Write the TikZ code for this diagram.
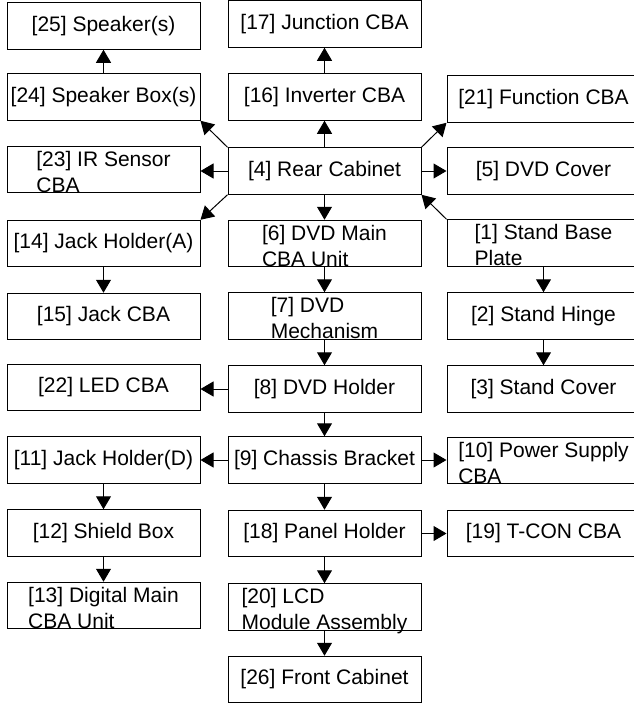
\documentclass[tikz,border=0pt]{standalone}
\usepackage{fontspec}
\setmainfont{Liberation Sans}
\usetikzlibrary{arrows.meta}

\begin{document}
\begin{tikzpicture}[x=1pt, y=-1pt,
  font=\fontsize{21}{26}\selectfont,
  part/.style={draw, line width=1pt, minimum width=193pt, minimum height=46.5pt, inner sep=2pt, align=left},
  two/.style={text height=45pt, text depth=0pt, inner ysep=0pt},
  p/.style={-{Triangle[length=13pt, width=15pt]}, line width=1pt}]
\useasboundingbox (0,0) rectangle (634,704);
% left column
\node[part] (n25) at (103.5,26) {[25] Speaker(s)};
\node[part] (n24) at (103.5,97) {[24] Speaker Box(s)};
\node[part, two] (n23) at (103.5,169.5) {[23] IR Sensor\\CBA};
\node[part] (n14) at (103.5,243.5) {[14] Jack Holder(A)};
\node[part] (n15) at (103.5,316.5) {[15] Jack CBA};
\node[part] (n22) at (103.5,387.5) {[22] LED CBA};
\node[part] (n11) at (103.5,460) {[11] Jack Holder(D)};
\node[part] (n12) at (103.5,533) {[12] Shield Box};
\node[part, two] (n13) at (103.5,605.5) {[13] Digital Main\\CBA Unit};
% middle column
\node[part] (n17) at (324.5,24) {[17] Junction CBA};
\node[part] (n16) at (324.5,97) {[16] Inverter CBA};
\node[part] (n4) at (324.5,171) {[4] Rear Cabinet};
\node[part, two] (n6) at (324.5,243.5) {[6] DVD Main\\CBA Unit};
\node[part, two] (n7) at (324.5,316) {[7] DVD\\Mechanism};
\node[part] (n8) at (324.5,389) {[8] DVD Holder};
\node[part] (n9) at (324.5,460) {[9] Chassis Bracket};
\node[part] (n18) at (324.5,533.5) {[18] Panel Holder};
\node[part, two] (n20) at (324.5,607) {[20] LCD\\Module Assembly};
\node[part] (n26) at (324.5,679.5) {[26] Front Cabinet};
% right column (cut by the page edge)
\node[part] (n21) at (543.5,99) {[21] Function CBA};
\node[part] (n5) at (543.5,171) {[5] DVD Cover};
\node[part, two] (n1) at (543.5,243) {[1] Stand Base\\Plate};
\node[part] (n2) at (543.5,316) {[2] Stand Hinge};
\node[part] (n3) at (543.5,389) {[3] Stand Cover};
\node[part, two] (n10) at (543.5,460.5) {[10] Power Supply\\CBA};
\node[part] (n19) at (543.5,533.5) {[19] T-CON CBA};

% arrows
\draw[p] (n24) -- (n25);
\draw[p] (n16) -- (n17);
\draw[p] (n4) -- (n16);
\draw[p] (n4.north west) -- (n24.south east);
\draw[p] (n4.west) -- (n4.west -| n23.east);
\draw[p] (n4.south west) -- (n14.north east);
\draw[p] (n4.north east) -- (n21.south west);
\draw[p] (n4) -- (n5);
\draw[p] (n1.north west) -- (n4.south east);
\draw[p] (n4) -- (n6);
\draw[p] (n6) -- (n7);
\draw[p] (n7) -- (n8);
\draw[p] (n8) -- (n9);
\draw[p] (n9) -- (n18);
\draw[p] (n18) -- (n20);
\draw[p] (n20) -- (n26);
\draw[p] (n8.west) -- (n8.west -| n22.east);
\draw[p] (n9) -- (n11);
\draw[p] (n9.east) -- (n9.east -| n10.west);
\draw[p] (n18) -- (n19);
\draw[p] (n14) -- (n15);
\draw[p] (n11) -- (n12);
\draw[p] (n12) -- (n13);
\draw[p] (n1) -- (n2);
\draw[p] (n2) -- (n3);
\end{tikzpicture}
\end{document}
